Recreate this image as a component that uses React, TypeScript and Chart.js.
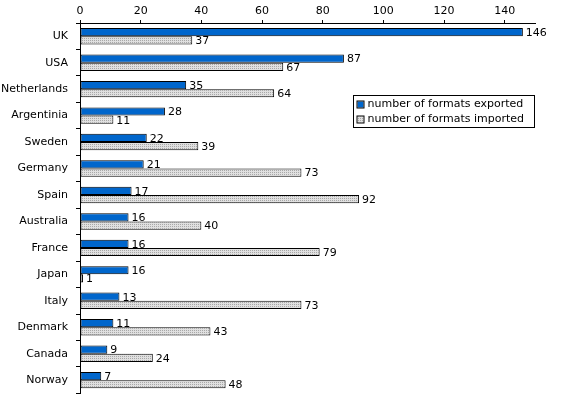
import React, { useEffect, useRef } from "react";
import { Chart, registerables } from "chart.js";

Chart.register(...registerables);

const countries = ["UK", "USA", "Netherlands", "Argentinia", "Sweden", "Germany", "Spain", "Australia", "France", "Japan", "Italy", "Denmark", "Canada", "Norway"];
const exported = [146, 87, 35, 28, 22, 21, 17, 16, 16, 16, 13, 11, 9, 7];
const imported = [37, 67, 64, 11, 39, 73, 92, 40, 79, 1, 73, 43, 24, 48];
const seriesNames = ["number of formats exported", "number of formats imported"];

const FONT = "DejaVu Sans, Verdana, sans-serif";

function makePattern(ctx: CanvasRenderingContext2D) {
  const c = document.createElement("canvas");
  c.width = 2;
  c.height = 2;
  const g = c.getContext("2d")!;
  g.fillStyle = "#E0E0E0";
  g.fillRect(0, 0, 2, 2);
  g.fillStyle = "#A8A8A8";
  g.fillRect(0, 0, 1, 1);
  return ctx.createPattern(c, "repeat")!;
}

export default function App() {
  const ref = useRef<HTMLCanvasElement>(null);
  useEffect(() => {
    document.body.style.margin = "0";
    const canvas = ref.current!;
    const ctx = canvas.getContext("2d")!;
    const pattern = makePattern(ctx);

    const valueLabels = {
      id: "valueLabels",
      afterDatasetsDraw(chart: any) {
        const c = chart.ctx;
        c.save();
        c.font = `11px ${FONT}`;
        c.fillStyle = "#000";
        c.textBaseline = "middle";
        c.textAlign = "left";
        chart.data.datasets.forEach((ds: any, di: number) => {
          const meta = chart.getDatasetMeta(di);
          meta.data.forEach((bar: any, i: number) => {
            c.fillText(String(ds.data[i]), bar.x + 3, bar.y + 1);
          });
        });
        c.restore();
      },
    };

    const customLegend = {
      id: "customLegend",
      afterDraw(chart: any) {
        const c = chart.ctx;
        c.save();
        const x = 353.5, y = 95.5, w = 181, h = 32;
        c.fillStyle = "#fff";
        c.fillRect(x, y, w, h);
        c.strokeStyle = "#000";
        c.lineWidth = 1;
        c.strokeRect(x, y, w, h);
        const fills = ["#0066CC", pattern];
        c.font = `11px ${FONT}`;
        c.textBaseline = "middle";
        seriesNames.forEach((name, i) => {
          const cy = y + 9 + i * 15;
          c.fillStyle = fills[i];
          c.fillRect(x + 4, cy - 3, 6, 6);
          c.strokeStyle = "#000";
          c.strokeRect(x + 3.5, cy - 3.5, 7, 7);
          c.fillStyle = "#000";
          c.fillText(name, x + 14, cy);
        });
        c.restore();
      },
    };

    const chart = new Chart(canvas, {
      type: "bar",
      data: {
        labels: countries,
        datasets: [
          {
            label: seriesNames[0],
            data: exported,
            backgroundColor: "#0066CC",
            borderColor: "#000",
            borderWidth: 1,
            borderSkipped: false,
            barPercentage: 1,
            categoryPercentage: 0.62,
          },
          {
            label: seriesNames[1],
            data: imported,
            backgroundColor: pattern,
            borderColor: "#000",
            borderWidth: 1,
            borderSkipped: false,
            barPercentage: 1,
            categoryPercentage: 0.62,
          },
        ],
      },
      options: {
        indexAxis: "y",
        animation: false,
        responsive: false,
        maintainAspectRatio: false,
        layout: { padding: { left: 0, right: 40, top: 0, bottom: 3 } },
        plugins: {
          legend: { display: false },
          tooltip: { enabled: false },
        },
        scales: {
          x: {
            position: "top",
            min: 0,
            max: 150,
            afterBuildTicks: (s: any) => {
              s.ticks = s.ticks.filter((t: any) => t.value % 20 === 0);
            },
            afterFit: (s: any) => {
              s.height = 23;
            },
            ticks: { stepSize: 20, color: "#000", font: { family: FONT, size: 11 }, padding: 2, maxRotation: 0 },
            grid: { drawOnChartArea: false, color: "#000", tickLength: 3 },
            border: { display: true, color: "#000" },
          },
          y: {
            afterFit: (s: any) => {
              s.width = 80;
            },
            ticks: { color: "#000", font: { family: FONT, size: 11 }, padding: 8 },
            grid: { drawOnChartArea: false, color: "#000", tickLength: 4, offset: true },
            border: { display: true, color: "#000" },
          },
        },
      },
      plugins: [valueLabels, customLegend],
    } as any);
    return () => chart.destroy();
  }, []);
  return (
    <div style={{ width: 575, height: 399, overflow: "hidden", background: "#fff" }}>
      <canvas ref={ref} width={575} height={408} style={{ display: "block" }} />
    </div>
  );
}
